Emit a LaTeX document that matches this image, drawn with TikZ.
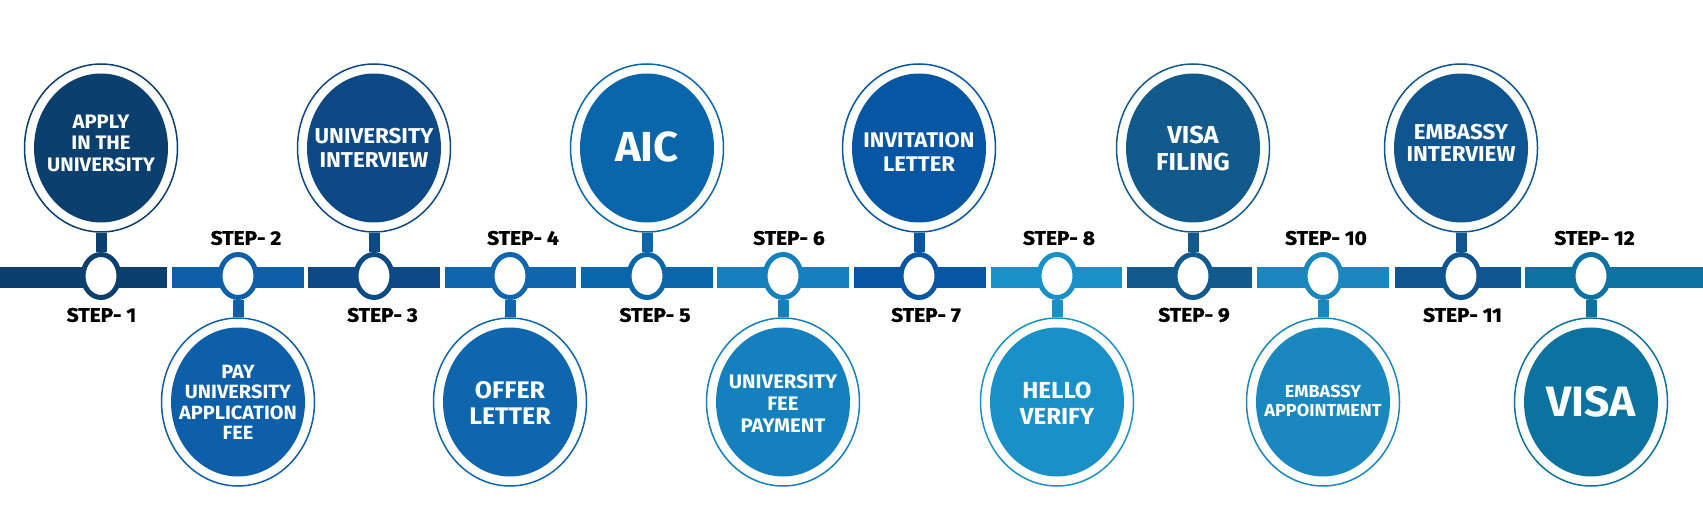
\documentclass[tikz,border=0pt]{standalone}
\usepackage{fontspec}
\setmainfont{Fira Sans}[FakeStretch=1.04]
\newfontfamily\stufenfont{Fira Sans}[FakeStretch=1.07, BoldFeatures={FakeBold=1.2}]
\usetikzlibrary{shapes.geometric}

% --- Farben der Stufen ---
\definecolor{colA}{HTML}{0B3F6E}
\definecolor{colB}{HTML}{0C5FA8}
\definecolor{colC}{HTML}{0D4A85}
\definecolor{colD}{HTML}{0E66AE}
\definecolor{colE}{HTML}{0A66AB}
\definecolor{colF}{HTML}{1480BD}
\definecolor{colG}{HTML}{0656A3}
\definecolor{colH}{HTML}{1991C8}
\definecolor{colI}{HTML}{135A8C}
\definecolor{colJ}{HTML}{1A87BE}
\definecolor{colK}{HTML}{0F5590}
\definecolor{colL}{HTML}{0C72A0}

\begin{document}
\begin{tikzpicture}[x=1pt, y=-1pt, every node/.style={align=center},
  ring/.style={ellipse, draw=#1, line width=1.5pt, fill=white,
    minimum width=153pt, minimum height=168pt, inner sep=0pt},
  punkt/.style={ellipse, draw=#1, line width=5pt, fill=white,
    minimum width=36pt, minimum height=43pt, inner sep=0pt},
  schrift/.style={text=white, inner sep=0pt},
  stufe/.style={inner sep=0pt, font=\stufenfont\bfseries\fontsize{19.6}{22}\selectfont},
  stiel/.style={draw=#1, line width=11pt}]

  % --- Parameter ---
  \def\yoben{148}    % Mitte der oberen Kreise
  \def\yunten{402}   % Mitte der unteren Kreise
  \def\ybalken{276}  % Mitte der Zeitleiste
  \def\rx{67}        % Innenkreis, horizontal
  \def\ry{74.5}      % Innenkreis, vertikal

  \useasboundingbox (0,0) rectangle (1703,518);

  % --- Zeitleiste: Balkenstuecke ---
  \fill[colA] (0,267)    rectangle (167,288);
  \fill[colB] (172,267)  rectangle (304,288);
  \fill[colC] (308,267)  rectangle (440,288);
  \fill[colD] (445,267)  rectangle (576,288);
  \fill[colE] (581,267)  rectangle (713,288);
  \fill[colF] (717,267)  rectangle (849,288);
  \fill[colG] (854,267)  rectangle (986,288);
  \fill[colH] (991,267)  rectangle (1122,288);
  \fill[colI] (1127,267) rectangle (1252,288);
  \fill[colJ] (1257,267) rectangle (1389,288);
  \fill[colK] (1395,267) rectangle (1521,288);
  \fill[colL] (1525,267) rectangle (1703,288);

  % --- Punkte auf der Leiste ---
  \node[punkt=colA] (P1)  at (101,\ybalken)  {};
  \node[punkt=colB] (P2)  at (238,\ybalken)  {};
  \node[punkt=colC] (P3)  at (374,\ybalken)  {};
  \node[punkt=colD] (P4)  at (510,\ybalken)  {};
  \node[punkt=colE] (P5)  at (647,\ybalken)  {};
  \node[punkt=colF] (P6)  at (783,\ybalken)  {};
  \node[punkt=colG] (P7)  at (919,\ybalken)  {};
  \node[punkt=colH] (P8)  at (1057,\ybalken) {};
  \node[punkt=colI] (P9)  at (1193,\ybalken) {};
  \node[punkt=colJ] (P10) at (1323,\ybalken) {};
  \node[punkt=colK] (P11) at (1461,\ybalken) {};
  \node[punkt=colL] (P12) at (1591,\ybalken) {};

  % --- Grosse Kreise (Ring + Fuellung) ---
  \node[ring=colA] (K1)  at (101,\yoben)   {};
  \node[ring=colB] (K2)  at (238,\yunten)  {};
  \node[ring=colC] (K3)  at (374,\yoben)   {};
  \node[ring=colD] (K4)  at (510,\yunten)  {};
  \node[ring=colE] (K5)  at (647,\yoben)   {};
  \node[ring=colF] (K6)  at (783,\yunten)  {};
  \node[ring=colG] (K7)  at (919,\yoben)   {};
  \node[ring=colH] (K8)  at (1057,\yunten) {};
  \node[ring=colI] (K9)  at (1193,\yoben)  {};
  \node[ring=colJ] (K10) at (1323,\yunten) {};
  \node[ring=colK] (K11) at (1461,\yoben)  {};
  \node[ring=colL] (K12) at (1591,\yunten) {};

  \fill[colA] (K1.center)  ellipse [x radius=\rx, y radius=\ry];
  \fill[colB] (K2.center)  ellipse [x radius=\rx, y radius=\ry];
  \fill[colC] (K3.center)  ellipse [x radius=\rx, y radius=\ry];
  \fill[colD] (K4.center)  ellipse [x radius=\rx, y radius=\ry];
  \fill[colE] (K5.center)  ellipse [x radius=\rx, y radius=\ry];
  \fill[colF] (K6.center)  ellipse [x radius=\rx, y radius=\ry];
  \fill[colG] (K7.center)  ellipse [x radius=\rx, y radius=\ry];
  \fill[colH] (K8.center)  ellipse [x radius=\rx, y radius=\ry];
  \fill[colI] (K9.center)  ellipse [x radius=\rx, y radius=\ry];
  \fill[colJ] (K10.center) ellipse [x radius=\rx, y radius=\ry];
  \fill[colK] (K11.center) ellipse [x radius=\rx, y radius=\ry];
  \fill[colL] (K12.center) ellipse [x radius=\rx, y radius=\ry];

  % --- Stiele Kreis -> Punkt ---
  \draw[stiel=colA] (K1)  -- (P1);
  \draw[stiel=colB] (K2)  -- (P2);
  \draw[stiel=colC] (K3)  -- (P3);
  \draw[stiel=colD] (K4)  -- (P4);
  \draw[stiel=colE] (K5)  -- (P5);
  \draw[stiel=colF] (K6)  -- (P6);
  \draw[stiel=colG] (K7)  -- (P7);
  \draw[stiel=colH] (K8)  -- (P8);
  \draw[stiel=colI] (K9)  -- (P9);
  \draw[stiel=colJ] (K10) -- (P10);
  \draw[stiel=colK] (K11) -- (P11);
  \draw[stiel=colL] (K12) -- (P12);

  % --- Texte in den Kreisen ---
  \node[schrift, font=\bfseries\fontsize{19.5}{21.7}\selectfont] (T1)  at (101,143.3)  {APPLY\\IN THE\\UNIVERSITY};
  \node[schrift, font=\bfseries\fontsize{19.2}{20.5}\selectfont] (T2)  at (238,402.5)  {PAY\\UNIVERSITY\\APPLICATION\\FEE};
  \node[schrift, font=\bfseries\fontsize{21.5}{24}\selectfont]   (T3)  at (374,148)    {UNIVERSITY\\INTERVIEW};
  \node[schrift, font=\bfseries\fontsize{24}{26}\selectfont]     (T4)  at (510,403)    {OFFER\\LETTER};
  \node[schrift, font=\bfseries\fontsize{42}{44}\selectfont]     (T5)  at (647,146.7)  {AIC};
  \node[schrift, font=\bfseries\fontsize{19.6}{22}\selectfont]   (T6)  at (783,404)    {UNIVERSITY\\FEE\\PAYMENT};
  \node[schrift, font=\bfseries\fontsize{21.2}{24}\selectfont]   (T7)  at (919,152)    {INVITATION\\LETTER};
  \node[schrift, font=\bfseries\fontsize{23.2}{26}\selectfont]   (T8)  at (1057,403)   {HELLO\\VERIFY};
  \node[schrift, font=\bfseries\fontsize{24.5}{26.7}\selectfont] (T9)  at (1193,148.3) {VISA\\FILING};
  \node[schrift, font=\bfseries\fontsize{17.4}{19}\selectfont]   (T10) at (1323,401.2) {EMBASSY\\APPOINTMENT};
  \node[schrift, font=\bfseries\fontsize{21.5}{22.3}\selectfont] (T11) at (1461,142.8) {EMBASSY\\INTERVIEW};
  \node[schrift, font=\bfseries\fontsize{42.5}{46}\selectfont]   (T12) at (1591,401.7) {VISA};

  % --- Beschriftung der Stufen ---
  \node[stufe] (S1)  at (101.5,315)  {STEP- 1};
  \node[stufe] (S2)  at (246,238)    {STEP- 2};
  \node[stufe] (S3)  at (382.5,315)  {STEP- 3};
  \node[stufe] (S4)  at (523,238)    {STEP- 4};
  \node[stufe] (S5)  at (655,315)    {STEP- 5};
  \node[stufe] (S6)  at (789,238)    {STEP- 6};
  \node[stufe] (S7)  at (926,315)    {STEP- 7};
  \node[stufe] (S8)  at (1059,238)   {STEP- 8};
  \node[stufe] (S9)  at (1194,315)   {STEP- 9};
  \node[stufe] (S10) at (1326,238)   {STEP- 10};
  \node[stufe] (S11) at (1462.5,315) {STEP- 11};
  \node[stufe] (S12) at (1594.5,238) {STEP- 12};

\end{tikzpicture}
\end{document}
